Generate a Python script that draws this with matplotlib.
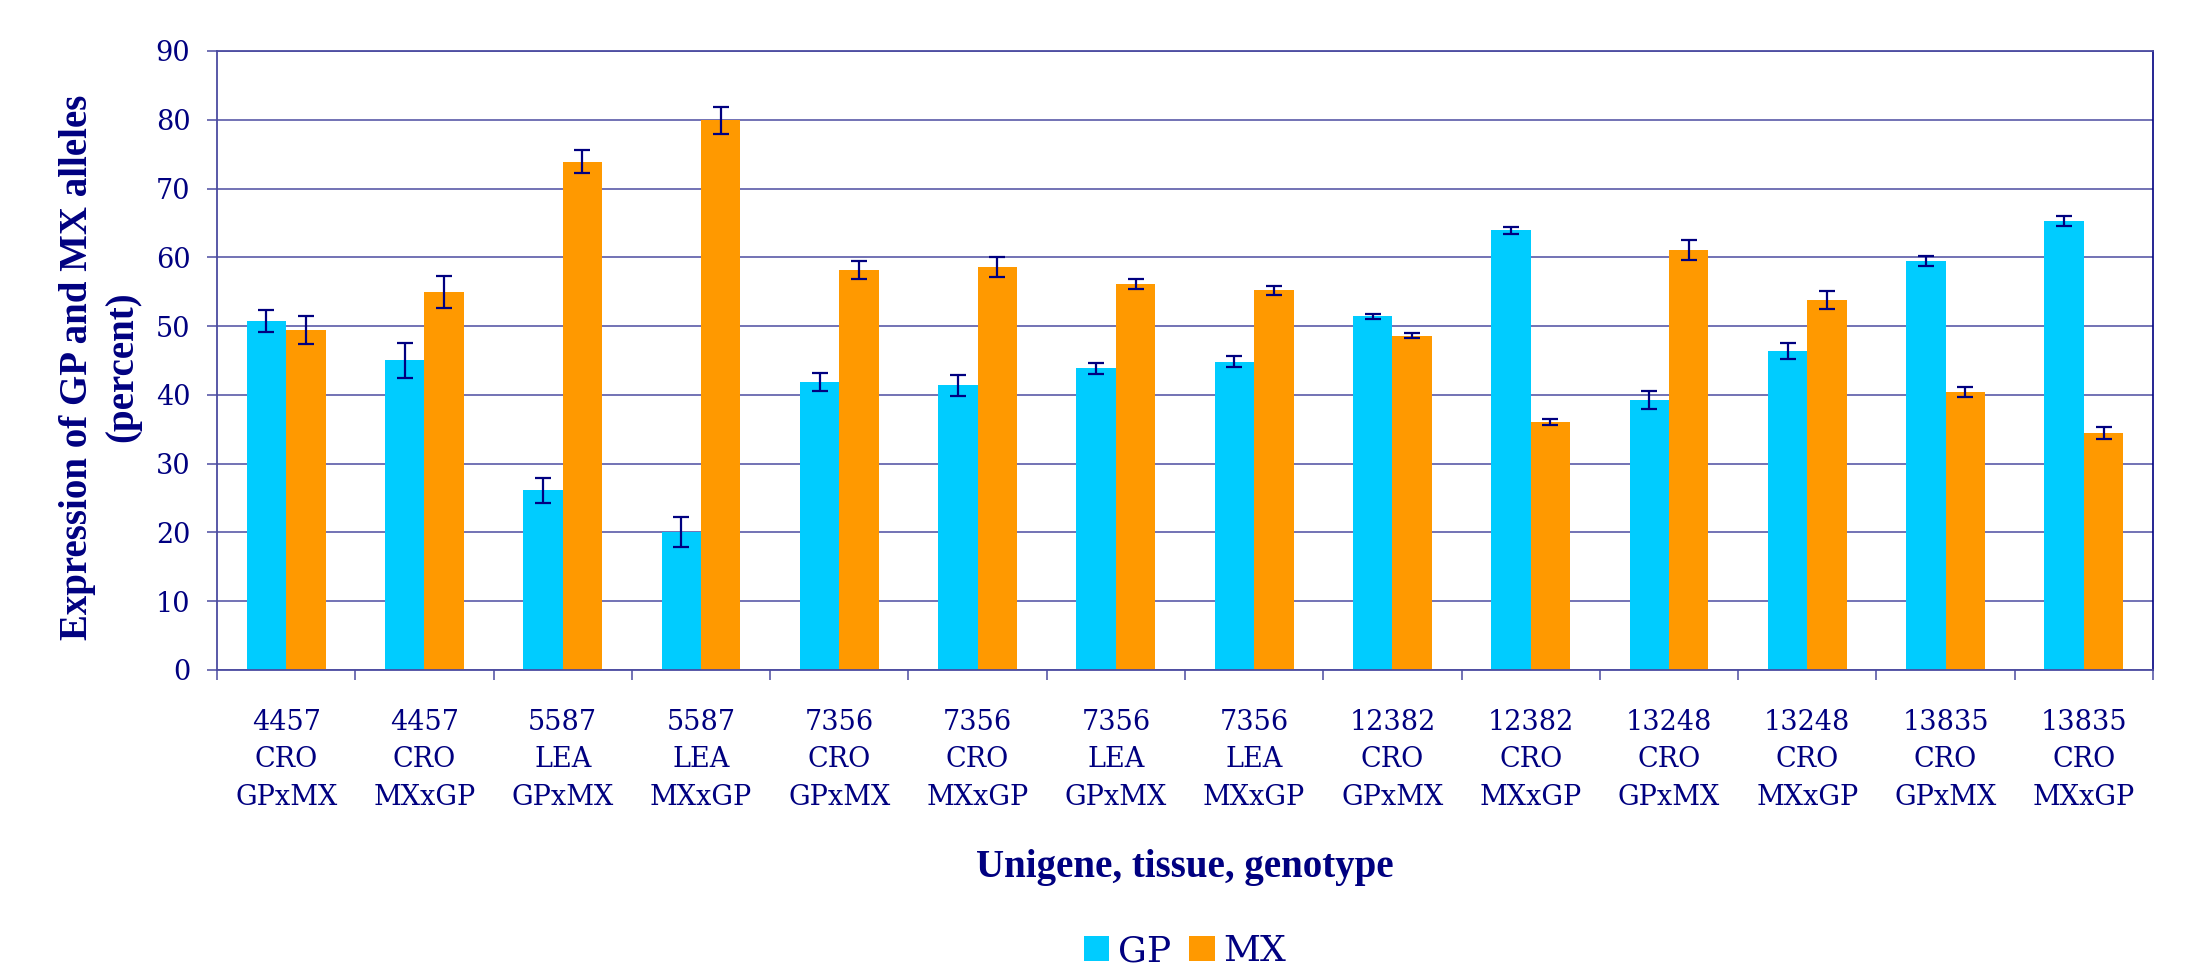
import matplotlib
matplotlib.use("Agg")
import matplotlib.pyplot as plt
import numpy as np
from matplotlib.patches import Patch

categories = ["4457\nCRO\nGPxMX", "4457\nCRO\nMXxGP", "5587\nLEA\nGPxMX", "5587\nLEA\nMXxGP",
              "7356\nCRO\nGPxMX", "7356\nCRO\nMXxGP", "7356\nLEA\nGPxMX", "7356\nLEA\nMXxGP",
              "12382\nCRO\nGPxMX", "12382\nCRO\nMXxGP", "13248\nCRO\nGPxMX", "13248\nCRO\nMXxGP",
              "13835\nCRO\nGPxMX", "13835\nCRO\nMXxGP"]
gp = [50.8, 45.0, 26.1, 20.1, 41.9, 41.4, 43.9, 44.8, 51.4, 63.9, 39.2, 46.4, 59.5, 65.3]
mx = [49.4, 55.0, 73.9, 79.9, 58.1, 58.6, 56.1, 55.2, 48.6, 36.0, 61.0, 53.8, 40.4, 34.5]
gp_err = [1.6, 2.5, 1.8, 2.2, 1.3, 1.5, 0.8, 0.8, 0.3, 0.55, 1.3, 1.2, 0.7, 0.75]
mx_err = [2.0, 2.3, 1.7, 2.0, 1.3, 1.5, 0.7, 0.7, 0.4, 0.45, 1.45, 1.3, 0.7, 0.9]
series_names = ["GP", "MX"]
yticks = [0, 10, 20, 30, 40, 50, 60, 70, 80, 90]

GP_COL = "#00CCFF"
MX_COL = "#FF9900"
NAVY = "#000080"
GRID = "#4B4BA0"

fig = plt.figure(figsize=(21.99, 9.71), dpi=100)
ax = fig.add_axes([0.0987, 0.31, 0.9791 - 0.0987, 0.9475 - 0.31])

x = np.arange(len(categories))
w = 0.285
ax.bar(x - w / 2, gp, w, color=GP_COL, zorder=2)
ax.bar(x + w / 2, mx, w, color=MX_COL, zorder=2)
ek = dict(fmt="none", ecolor=NAVY, elinewidth=1.6, capsize=6, capthick=1.6, zorder=3)
ax.errorbar(x - w / 2, gp, yerr=gp_err, **ek)
ax.errorbar(x + w / 2, mx, yerr=mx_err, **ek)

ax.set_xlim(-0.5, len(categories) - 0.5)
ax.set_ylim(0, 90)
ax.set_yticks(yticks)
ax.set_yticklabels([str(t) for t in yticks])
ax.yaxis.grid(True, color=GRID, linewidth=1.1, zorder=0)
ax.set_axisbelow(True)

ax.set_xticks(np.arange(-0.5, len(categories)), [""] * (len(categories) + 1))
ax.set_xticks(x, categories, minor=True)
ax.tick_params(axis="x", which="major", length=10 * 0.72, width=1.1, color=GRID, direction="out")
ax.tick_params(axis="x", which="minor", length=0, pad=28)
ax.tick_params(axis="y", length=10 * 0.72, width=1.1, color=GRID, direction="out", pad=12)

for lbl in ax.get_xticklabels(minor=True):
    lbl.set_fontfamily("DejaVu Serif")
    lbl.set_fontsize(19.5)
    lbl.set_color(NAVY)
    lbl.set_linespacing(1.5)
for lbl in ax.get_yticklabels():
    lbl.set_fontfamily("DejaVu Serif")
    lbl.set_fontsize(19.5)
    lbl.set_color(NAVY)

for side in ["left", "bottom", "top"]:
    ax.spines[side].set_color(GRID)
    ax.spines[side].set_linewidth(1.3)
ax.spines["right"].set_color(NAVY)
ax.spines["right"].set_linewidth(1.2)

fig.text(0.0455, 1 - 367 / 971, "Expression of GP and MX alleles\n(percent)", rotation=90,
         ha="center", va="center", multialignment="center", fontfamily="Liberation Serif",
         fontweight="bold", fontsize=28, color=NAVY, linespacing=1.28)
fig.text(0.5389, 1 - 867 / 971, "Unigene, tissue, genotype", ha="center", va="center",
         fontfamily="Liberation Serif", fontweight="bold", fontsize=28, color=NAVY)

handles = [Patch(facecolor=GP_COL, edgecolor="none"), Patch(facecolor=MX_COL, edgecolor="none")]
leg = fig.legend(handles, series_names, loc="center", bbox_to_anchor=(0.5389, 1 - 951 / 971),
                 ncol=2, frameon=False, handlelength=0.7, handleheight=0.7, handletextpad=0.25,
                 columnspacing=0.5, prop={"family": "DejaVu Serif", "size": 26})
for t in leg.get_texts():
    t.set_color(NAVY)

fig.savefig("out.png", dpi=100)
